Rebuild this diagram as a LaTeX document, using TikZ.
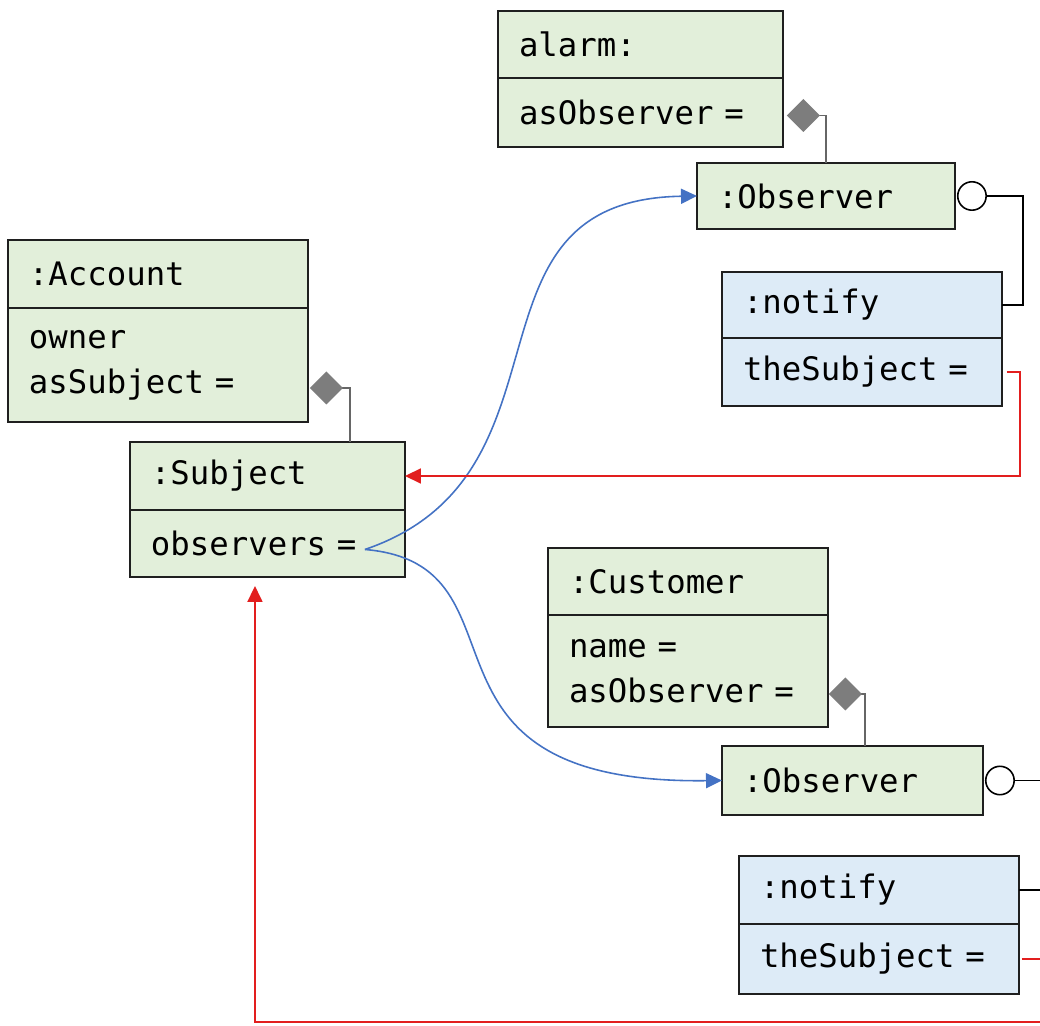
\documentclass[tikz,border=0pt]{standalone}
\usepackage{fontspec}
\setmonofont{DejaVu Sans Mono}
\usetikzlibrary{positioning, arrows.meta}

\definecolor{objgreen}{RGB}{226,239,218}
\definecolor{objblue}{RGB}{221,235,247}
\definecolor{linkblue}{RGB}{68,114,196}
\definecolor{refred}{RGB}{226,30,30}
\definecolor{aggrgray}{RGB}{125,125,125}

\tikzset{
    obj/.style={draw=black!88, line width=1.1pt, fill=objgreen, anchor=north west,
        inner xsep=0.42cm, inner ysep=0pt, outer sep=0pt, align=left,
        font=\ttfamily\fontsize{18.4}{25.6}\selectfont},
    fn/.style={obj, fill=objblue},
    has/.style={draw=black!60, line width=1pt,
        {Diamond[length=0.66cm, width=0.66cm, color=aggrgray, fill=aggrgray]}-},
    lolli/.style={draw=black, line width=0.9pt, {Circle[open, length=0.6cm, fill=white]}-},
    ref/.style={draw=linkblue, line width=0.9pt, -{Triangle[length=0.32cm, width=0.3cm]}},
    backref/.style={draw=refred, line width=1pt, -{Triangle[length=0.32cm, width=0.3cm]}}
}

\begin{document}
\begin{tikzpicture}[x=0.02cm, y=-0.02cm]
    \clip (0,0) rectangle (1040,1026);
    \fill[white] (0,0) rectangle (1040,1026);

    % alarm with its observer and notify
    \node[obj, text width=4.86cm, minimum height=1.34cm] (alarm) at (498,11) {alarm:};
    \node[obj, text width=4.86cm, minimum height=1.38cm, below=0pt of alarm] (alarmb) {asObserver =};
    \node[obj, text width=4.32cm, minimum height=1.32cm] (obsA) at (697,163) {:Observer};
    \node[fn, text width=4.76cm, minimum height=1.32cm] (notifyA) at (722,272) {:notify};
    \node[fn, text width=4.76cm, minimum height=1.36cm, below=0pt of notifyA] (notifyAb) {theSubject =};

    % account with its subject
    \node[obj, text width=5.16cm, minimum height=1.36cm] (account) at (8,240) {:Account};
    \node[obj, text width=5.16cm, minimum height=2.28cm, below=0pt of account] (accountb) {owner\\asSubject =};
    \node[obj, text width=4.66cm, minimum height=1.36cm] (subject) at (130,442) {:Subject};
    \node[obj, text width=4.66cm, minimum height=1.34cm, below=0pt of subject] (subjectb) {observers =};

    % customer with its observer and notify
    \node[obj, text width=4.76cm, minimum height=1.34cm] (customer) at (548,548) {:Customer};
    \node[obj, text width=4.76cm, minimum height=2.24cm, below=0pt of customer] (customerb) {name =\\asObserver =};
    \node[obj, text width=4.38cm, minimum height=1.38cm] (obsB) at (722,746) {:Observer};
    \node[fn, text width=4.76cm, minimum height=1.36cm] (notifyB) at (739,856) {:notify};
    \node[fn, text width=4.76cm, minimum height=1.40cm, below=0pt of notifyB] (notifyBb) {theSubject =};

    % parts
    \draw[has] ([xshift=0.08cm, yshift=-0.06cm]alarmb.east) -| (obsA.north);
    \draw[has] ([xshift=0.04cm, yshift=-0.46cm]accountb.east) -| ([xshift=1.65cm]subject.north);
    \draw[has] ([xshift=0.02cm, yshift=-0.46cm]customerb.east) -| ([xshift=0.25cm]obsB.north);

    % interfaces
    \draw[lolli] ([xshift=0.04cm]obsA.east) -- ++(66,0) |- (notifyA.east);
    \draw[lolli] ([xshift=0.04cm]obsB.east) -- ++(80,0) |- (notifyB.east);

    % observers list
    \coordinate (obsout) at ([xshift=-0.8cm, yshift=-0.12cm]subjectb.east);
    \draw[ref] (obsout) .. controls +(220,-75) and +(-247,4) .. (obsA.west);
    \draw[ref] (obsout) .. controls +(175,15) and +(-332,4) .. (obsB.west);

    % back to the subject
    \coordinate (loop) at (1065,1022);
    \draw[backref] ([xshift=0.1cm]notifyAb.east) -- ++(13,0) |- (subject.east);
    \draw[backref, shorten >=0.18cm] ([xshift=0.06cm]notifyBb.east) -| (loop) -| ([xshift=-0.25cm]subjectb.south);
\end{tikzpicture}
\end{document}
